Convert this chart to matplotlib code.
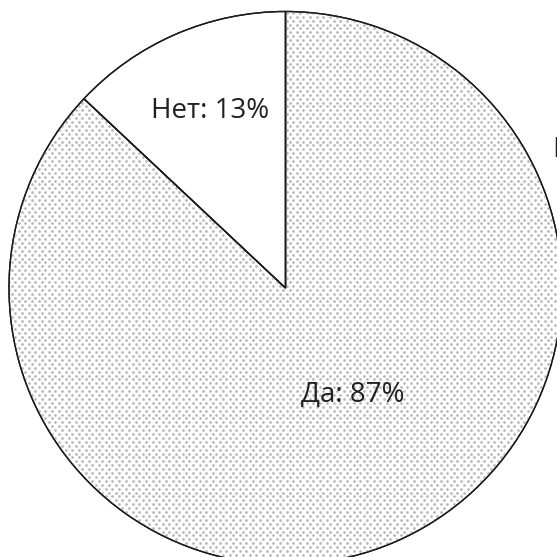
import numpy as np
import matplotlib
matplotlib.use("Agg")
import matplotlib.pyplot as plt
from matplotlib.patches import Wedge

labels = ["Да", "Нет"]
values = [87, 13]

W = H = 557
DPI = 100
fig = plt.figure(figsize=(W / DPI, H / DPI), dpi=DPI)
ax = fig.add_axes([0, 0, 1, 1])

# pixel layout of the pie
cx_px, cy_px, r_px = 285.5, 288.0, 276.5

wedges, _ = ax.pie(values, startangle=90, counterclock=False,
                   colors=["white", "white"],
                   wedgeprops=dict(edgecolor="#1a1a1a", linewidth=1.0),
                   radius=1.0, center=(0, 0))
ax.set_xlim(-cx_px / r_px, (W - cx_px) / r_px)
ax.set_ylim(-(H - cy_px) / r_px, cy_px / r_px)
ax.set_aspect("equal")
ax.axis("off")

# dotted texture for the "Да" wedge
dx = 6.7 / r_px
dy = 3.9 / r_px
pts = []
ys = np.arange(-1.05, 1.05, dy)
for i, yy in enumerate(ys):
    off = (dx / 2) if i % 2 else 0.0
    xs = np.arange(-1.05 + off, 1.05, dx)
    pts.append(np.column_stack([xs, np.full_like(xs, yy)]))
pts = np.vstack(pts)
sc = ax.scatter(pts[:, 0], pts[:, 1], s=3.8, c="#b5b5b5", marker="o",
                linewidths=0, zorder=3)
sc.set_clip_path(wedges[0])

# edges on top of the texture
for w in wedges:
    ax.add_patch(Wedge(w.center, w.r, w.theta1, w.theta2,
                       facecolor="none", edgecolor="#1a1a1a",
                       linewidth=1.0, zorder=4))

font = "Open Sans"
def px(x, y):
    return ((x - cx_px) / r_px, (cy_px - y) / r_px)

tx, ty = px(353, 402)
ax.text(tx, ty, f"{labels[0]}: {values[0]}%", ha="center", va="baseline",
        fontsize=20, family=font, color="#231f20", zorder=5)
tx, ty = px(210, 118)
ax.text(tx, ty, f"{labels[1]}: {values[1]}%", ha="center", va="baseline",
        fontsize=20, family=font, color="#231f20", zorder=5)

# text cut off at the right edge, as in the reference
tx, ty = px(552, 157)
ax.text(tx, ty, "П", ha="left", va="baseline", fontsize=20, family=font,
        color="#231f20", zorder=5, clip_on=False)

fig.savefig("out.png", dpi=DPI)
